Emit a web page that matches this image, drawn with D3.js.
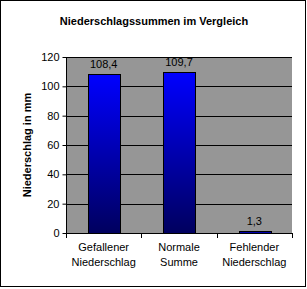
<!DOCTYPE html>
<html>
<head>
<meta charset="utf-8">
<script src="https://cdn.jsdelivr.net/npm/d3@7"></script>
<style>
  html, body { margin: 0; padding: 0; background: #fff; }
  svg { display: block; }
  text { font-family: Arial, "Liberation Sans", sans-serif; }
</style>
</head>
<body>
<div id="chart"></div>
<script>
// Niederschlagssummen chart

const categories = [["Gefallener", "Niederschlag"], ["Normale", "Summe"], ["Fehlender", "Niederschlag"]];
const values = [108.4, 109.7, 1.3];
const valueLabels = ["108,4", "109,7", "1,3"];
const yTicks = [0, 20, 40, 60, 80, 100, 120];

const width = 307;
const height = 289;
const plot = { left: 66, right: 292, top: 57, bottom: 233 };

const svg = d3.select("#chart").append("svg")
    .attr("width", width)
    .attr("height", height);

// outer frame
svg.append("rect")
    .attr("x", 0.5)
    .attr("y", 0.5)
    .attr("width", 305)
    .attr("height", 286)
    .attr("fill", "#fff")
    .attr("stroke", "#000");

const defs = svg.append("defs");
const grad = defs.append("linearGradient")
    .attr("id", "barGrad")
    .attr("x1", "0").attr("y1", "0")
    .attr("x2", "0").attr("y2", "1");
grad.append("stop").attr("offset", "0%").attr("stop-color", "#0000ff");
grad.append("stop").attr("offset", "100%").attr("stop-color", "#00005e");

const x = d3.scaleBand()
    .domain(d3.range(categories.length))
    .range([plot.left, plot.right])
    .paddingInner(0.58)
    .paddingOuter(0.29);

const y = d3.scaleLinear()
    .domain([0, 120])
    .range([plot.bottom, plot.top]);

// plot area
svg.append("rect")
    .attr("x", plot.left)
    .attr("y", plot.top)
    .attr("width", plot.right - plot.left)
    .attr("height", plot.bottom - plot.top)
    .attr("fill", "#969696");

// gridlines
svg.append("g")
    .selectAll("line")
    .data(yTicks.filter(d => d > 0))
    .join("line")
    .attr("x1", plot.left)
    .attr("x2", plot.right)
    .attr("y1", d => Math.round(y(d)) + 0.5)
    .attr("y2", d => Math.round(y(d)) + 0.5)
    .attr("stroke", "#000");

// bars
svg.append("g")
    .selectAll("rect")
    .data(values)
    .join("rect")
    .attr("x", (d, i) => Math.round(x(i)) + 0.5)
    .attr("y", d => Math.round(y(d)) + 0.5)
    .attr("width", Math.round(x.bandwidth()))
    .attr("height", d => Math.round(y(0)) - Math.round(y(d)))
    .attr("fill", "url(#barGrad)")
    .attr("stroke", "#000");

// value labels
svg.append("g")
    .selectAll("text")
    .data(values)
    .join("text")
    .attr("x", (d, i) => x(i) + x.bandwidth() / 2)
    .attr("y", d => y(d) - 6)
    .attr("text-anchor", "middle")
    .style("font-size", "11px")
    .text((d, i) => valueLabels[i]);

// y axis
const yAxis = svg.append("g")
    .attr("transform", `translate(${plot.left + 0.5},0)`)
    .call(d3.axisLeft(y).tickValues(yTicks).tickSize(4).tickPadding(3).tickFormat(d3.format("d")));
yAxis.select(".domain").attr("stroke", "#000").attr("d", `M0,${plot.top}V${plot.bottom + 0.5}`);
yAxis.selectAll("line").attr("stroke", "#000");
yAxis.selectAll("text").style("font-size", "11px").attr("fill", "#000")
    .style("font-family", "Arial, 'Liberation Sans', sans-serif");

// x axis line and category ticks
const xAxis = svg.append("g");
xAxis.append("line")
    .attr("x1", plot.left)
    .attr("x2", plot.right + 1)
    .attr("y1", plot.bottom + 0.5)
    .attr("y2", plot.bottom + 0.5)
    .attr("stroke", "#000");
xAxis.selectAll(".tick")
    .data(d3.range(categories.length + 1))
    .join("line")
    .attr("class", "tick")
    .attr("x1", i => Math.round(plot.left + i * x.step() + (i ? 0 : 0)) + 0.5)
    .attr("x2", i => Math.round(plot.left + i * x.step()) + 0.5)
    .attr("y1", plot.bottom)
    .attr("y2", plot.bottom + 5)
    .attr("stroke", "#000");

// category labels
const cat = svg.append("g")
    .selectAll("text")
    .data(categories)
    .join("text")
    .attr("x", (d, i) => x(i) + x.bandwidth() / 2)
    .attr("y", 211)
    .attr("text-anchor", "middle")
    .style("font-size", "11px");
cat.selectAll("tspan")
    .data(d => d)
    .join("tspan")
    .attr("x", function() { return d3.select(this.parentNode).attr("x"); })
    .attr("dy", (d, i) => i ? 15 : 0)
    .text(d => d);
cat.attr("y", plot.bottom + 18);

// title
svg.append("text")
    .attr("x", 154)
    .attr("y", 25)
    .attr("text-anchor", "middle")
    .style("font-size", "11px")
    .style("font-weight", "bold")
    .text("Niederschlagssummen im Vergleich");

// y label
svg.append("text")
    .attr("transform", `translate(31,${(plot.top + plot.bottom) / 2}) rotate(-90)`)
    .attr("text-anchor", "middle")
    .style("font-size", "11px")
    .style("font-weight", "bold")
    .text("Niederschlag in mm");
</script>
</body>
</html>
